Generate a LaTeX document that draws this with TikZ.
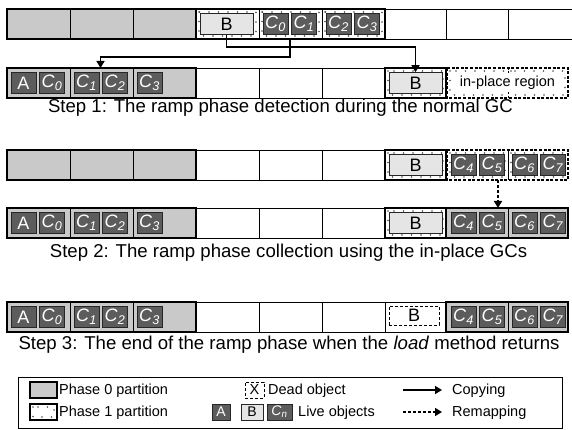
\documentclass[tikz,border=0pt]{standalone}
\usepackage{fontspec}
\setmainfont{Liberation Sans}
\usetikzlibrary{arrows.meta}

\definecolor{pzero}{gray}{0.79}
\definecolor{livecol}{gray}{0.36}
\definecolor{bcol}{gray}{0.9}

% italic C with an italic subscript
\newcommand\cobj[1]{\textit{C}\textsubscript{\textit{#1}}}
% dotted trim just inside a phase 1 cell
\newcommand\trimdots[4]{\draw[dotrim] (#1+3,#2+3) rectangle (#3-3,#4-3);}

\begin{document}
\begin{tikzpicture}[x=1pt, y=-1pt,
  thincell/.style={draw=black, line width=0.7pt},
  boldpart/.style={draw=black, line width=1.9pt},
  dotrim/.style={draw=black!70, line width=1.6pt, line cap=round, dash pattern=on 0pt off 9.5pt},
  dashpart/.style={draw=black, line width=1.6pt, dash pattern=on 3pt off 1.6pt},
  live/.style={draw=black!85, fill=livecol, text=white, minimum width=25pt, minimum height=21pt,
    inner sep=0pt, line width=0.6pt, font=\fontsize{18}{18}\selectfont},
  bobj/.style={live, fill=bcol, text=black, minimum width=53pt},
  deadobj/.style={draw=black, line width=0.7pt, dash pattern=on 3pt off 2pt, minimum width=50pt,
    minimum height=19pt, inner sep=0pt, font=\fontsize{18}{18}\selectfont},
  copyarrow/.style={draw=black, line width=1.5pt, -{Triangle[length=7pt,width=8pt]}},
  remaparrow/.style={copyarrow, dash pattern=on 3pt off 2pt},
  steptext/.style={anchor=base, font=\fontsize{18.6}{20}\selectfont},
  legtext/.style={anchor=base west, inner sep=0pt, font=\fontsize{14.5}{16}\selectfont},
  legobj/.style={live, minimum height=16pt, font=\fontsize{14}{14}\selectfont},
]
\useasboundingbox (0,0) rectangle (572,430);

% ---------- Step 1, upper row ----------
\fill[pzero] (7,9) rectangle (196,39);
\draw[thincell] (70,9) -- (70,39) (133,9) -- (133,39);
\draw[boldpart] (7,9) rectangle (196,39);
\draw[thincell] (385,9) -- (572,9) (385,39) -- (572,39) (446,9) -- (446,39) (508,9) -- (508,39);
\trimdots{196}{9}{259}{39}
\trimdots{259}{9}{322}{39}
\trimdots{322}{9}{385}{39}
\draw[thincell] (259,9) -- (259,39) (322,9) -- (322,39);
\draw[boldpart] (196,9) rectangle (385,39);
\node[bobj] (b1) at (226.5,24) {B};
\node[live] (c0u) at (275.5,24) {\cobj{0}};
\node[live] (c1u) at (304,24) {\cobj{1}};
\node[live] (c2u) at (338.5,24) {\cobj{2}};
\node[live] (c3u) at (367,24) {\cobj{3}};

% ---------- Step 1, lower row ----------
\fill[pzero] (7,68) rectangle (196,98);
\draw[thincell] (70,68) -- (70,98) (133,68) -- (133,98);
\draw[boldpart] (7,68) rectangle (196,98);
\node[live] (a2) at (23.5,83) {A};
\node[live] (c02) at (52,83) {\cobj{0}};
\node[live] (c12) at (86.5,83) {\cobj{1}};
\node[live] (c22) at (115,83) {\cobj{2}};
\node[live] (c32) at (149.5,83) {\cobj{3}};
\draw[thincell] (196,68) rectangle (385,98) (259,68) -- (259,98) (322,68) -- (322,98);
\trimdots{385}{68}{446}{98}
\draw[boldpart] (385,68) rectangle (446,98);
\node[bobj] (b2) at (415.5,83) {B};
\trimdots{447}{68}{508}{98}
\trimdots{508}{68}{568}{98}
\draw[thincell, dash pattern=on 2pt off 1.5pt] (508,68) -- (508,98);
\draw[dashpart] (447,68) rectangle (568,98);
\node[fill=white, inner sep=1pt, font=\fontsize{14.5}{16}\selectfont] (ipr) at (507.5,83) {in-place region};

% copying connectors
\coordinate (s01) at (290,39);
\coordinate (j1) at (300,47);
\coordinate (j2) at (200,57);
\coordinate (t12) at (100.5,68);
\draw[copyarrow] (b1.south) |- (j1) -| (b2.north);
\draw[copyarrow] (s01) |- (j2) -| (t12);

\node[steptext] (st1) at (280.5,113) {Step 1: The ramp phase detection during the normal GC};

% ---------- Step 2, upper row ----------
\fill[pzero] (7,150) rectangle (196,180);
\draw[thincell] (70,150) -- (70,180) (133,150) -- (133,180);
\draw[boldpart] (7,150) rectangle (196,180);
\draw[thincell] (196,150) rectangle (385,180) (259,150) -- (259,180) (322,150) -- (322,180);
\trimdots{385}{150}{446}{180}
\draw[boldpart] (385,150) rectangle (446,180);
\node[bobj] (b3) at (415.5,165) {B};
\trimdots{447}{150}{508}{180}
\trimdots{508}{150}{568}{180}
\draw[thincell] (508,150) -- (508,180);
\draw[dashpart] (447,150) rectangle (568,180);
\node[live] (c43) at (463.5,165) {\cobj{4}};
\node[live] (c53) at (492,165) {\cobj{5}};
\node[live] (c63) at (524.5,165) {\cobj{6}};
\node[live] (c73) at (553,165) {\cobj{7}};

% ---------- Step 2, lower row ----------
\fill[pzero] (7,208) rectangle (196,238);
\draw[thincell] (70,208) -- (70,238) (133,208) -- (133,238);
\draw[boldpart] (7,208) rectangle (196,238);
\node[live] (a4) at (23.5,223) {A};
\node[live] (c04) at (52,223) {\cobj{0}};
\node[live] (c14) at (86.5,223) {\cobj{1}};
\node[live] (c24) at (115,223) {\cobj{2}};
\node[live] (c34) at (149.5,223) {\cobj{3}};
\draw[thincell] (196,208) rectangle (385,238) (259,208) -- (259,238) (322,208) -- (322,238);
\fill[pzero] (446,208) rectangle (568,238);
\trimdots{385}{208}{446}{238}
\draw[thincell] (508,208) -- (508,238);
\draw[boldpart] (385,208) rectangle (568,238) (446,208) -- (446,238);
\node[bobj] (b4) at (415.5,223) {B};
\node[live] (c44) at (463.5,223) {\cobj{4}};
\node[live] (c54) at (492,223) {\cobj{5}};
\node[live] (c64) at (524.5,223) {\cobj{6}};
\node[live] (c74) at (553,223) {\cobj{7}};

% remapping connector
\coordinate (r3) at (498,180);
\coordinate (r4) at (498,208);
\draw[remaparrow] (r3) -- (r4);

\node[steptext] (st2) at (288.5,257) {Step 2: The ramp phase collection using the in-place GCs};

% ---------- Step 3 ----------
\fill[pzero] (7,302) rectangle (196,332);
\draw[thincell] (70,302) -- (70,332) (133,302) -- (133,332);
\draw[boldpart] (7,302) rectangle (196,332);
\node[live] (a5) at (23.5,317) {A};
\node[live] (c05) at (52,317) {\cobj{0}};
\node[live] (c15) at (86.5,317) {\cobj{1}};
\node[live] (c25) at (115,317) {\cobj{2}};
\node[live] (c35) at (149.5,317) {\cobj{3}};
\draw[thincell] (196,302) rectangle (446,332) (259,302) -- (259,332) (322,302) -- (322,332) (385,302) -- (385,332);
\node[deadobj] (b5) at (414,315.5) {B};
\fill[pzero] (446,302) rectangle (568,332);
\draw[thincell] (508,302) -- (508,332);
\draw[boldpart] (446,302) rectangle (568,332);
\node[live] (c45) at (463.5,317) {\cobj{4}};
\node[live] (c55) at (492,317) {\cobj{5}};
\node[live] (c65) at (524.5,317) {\cobj{6}};
\node[live] (c75) at (553,317) {\cobj{7}};

\node[steptext] (st3) at (289,349) {Step 3: The end of the ramp phase when the \textit{load} method returns};

% ---------- legend ----------
\draw[line width=0.8pt] (18,377) rectangle (562,428);
\fill[pzero] (30,382) rectangle (57,398);
\draw[boldpart] (30,382) rectangle (57,398);
\trimdots{30}{404}{57}{420}
\draw[boldpart] (30,404) rectangle (57,420);
\node[legtext] (l0) at (59,394.5) {Phase 0 partition};
\node[legtext] (l1) at (59,416) {Phase 1 partition};

\node[deadobj, minimum width=19pt, minimum height=16pt, font=\fontsize{14.5}{16}\selectfont] (lx) at (254.5,390) {X};
\node[legtext] (ld) at (268,394.5) {Dead object};
\node[legobj, minimum width=18pt] (la) at (221,412) {A};
\node[legobj, fill=bcol, text=black, minimum width=22pt] (lb) at (252,412) {B};
\node[legobj, minimum width=25pt] (lc) at (279.5,412) {\cobj{n}};
\node[legtext] (ll) at (298,416) {Live objects};

\coordinate (cpa) at (403,390);
\coordinate (cpb) at (442,390);
\draw[copyarrow] (cpa) -- (cpb);
\node[legtext] (lcp) at (452,394.5) {Copying};
\coordinate (rma) at (403,412);
\coordinate (rmb) at (442,412);
\draw[remaparrow] (rma) -- (rmb);
\node[legtext] (lrm) at (452,416) {Remapping};
\end{tikzpicture}
\end{document}
